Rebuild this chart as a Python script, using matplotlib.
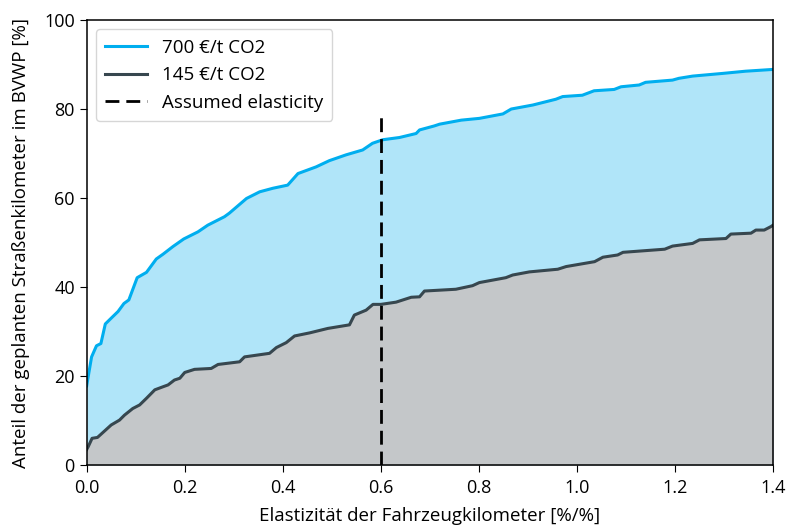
import matplotlib
matplotlib.use("Agg")
import matplotlib.pyplot as plt

plt.rcParams["font.family"] = ["Open Sans", "DejaVu Sans"]

# elasticity (x) and share of planned road km (y) for 700 EUR/t CO2
x_700 = [0.0, 0.003, 0.01, 0.02, 0.029, 0.038, 0.05, 0.064, 0.076, 0.086,
         0.103, 0.122, 0.142, 0.156, 0.176, 0.198, 0.227, 0.247, 0.281, 0.291,
         0.326, 0.353, 0.38, 0.41, 0.431, 0.468, 0.495, 0.529, 0.563, 0.583,
         0.604, 0.638, 0.672, 0.679, 0.709, 0.72, 0.764, 0.801, 0.849, 0.866,
         0.91, 0.957, 0.971, 1.011, 1.035, 1.076, 1.09, 1.127, 1.14, 1.195,
         1.208, 1.236, 1.297, 1.344, 1.4]
y_700 = [17.8, 19.8, 24.3, 26.8, 27.3, 31.7, 33.0, 34.5, 36.3, 37.1,
         42.1, 43.3, 46.3, 47.4, 49.1, 50.8, 52.4, 53.9, 55.8, 56.6,
         59.9, 61.4, 62.2, 62.9, 65.5, 67.0, 68.4, 69.7, 70.8, 72.3,
         73.1, 73.6, 74.5, 75.3, 76.2, 76.6, 77.5, 77.9, 78.9, 80.0,
         80.9, 82.2, 82.8, 83.1, 84.1, 84.4, 85.0, 85.4, 86.0, 86.5,
         86.9, 87.4, 88.0, 88.5, 88.9]

# same for 145 EUR/t CO2
x_145 = [0.0, 0.003, 0.011, 0.022, 0.033, 0.05, 0.067, 0.077, 0.094, 0.108,
         0.122, 0.139, 0.156, 0.166, 0.179, 0.19, 0.2, 0.22, 0.254, 0.268,
         0.312, 0.322, 0.373, 0.387, 0.407, 0.424, 0.455, 0.492, 0.536, 0.546,
         0.57, 0.584, 0.6, 0.631, 0.662, 0.679, 0.689, 0.753, 0.787, 0.801,
         0.855, 0.869, 0.903, 0.961, 0.978, 1.036, 1.053, 1.083, 1.094, 1.179,
         1.195, 1.236, 1.25, 1.304, 1.314, 1.355, 1.365, 1.382, 1.396, 1.4]
y_145 = [3.5, 4.1, 6.0, 6.2, 7.3, 9.0, 10.1, 11.2, 12.7, 13.5,
         15.0, 16.9, 17.6, 18.0, 19.1, 19.5, 20.8, 21.5, 21.7, 22.6,
         23.2, 24.3, 25.1, 26.4, 27.5, 29.0, 29.7, 30.7, 31.5, 33.7,
         34.8, 36.1, 36.1, 36.6, 37.7, 37.8, 39.1, 39.5, 40.3, 41.0,
         42.1, 42.7, 43.4, 44.0, 44.6, 45.7, 46.7, 47.2, 47.8, 48.5,
         49.2, 49.8, 50.6, 50.9, 51.9, 52.1, 52.8, 52.8, 53.6, 53.9]

assumed_elasticity = 0.6
assumed_top = 79

fig = plt.figure(figsize=(7.88, 5.27), dpi=100)
ax = fig.add_axes([0.110, 0.1176, 0.871, 0.8444])

ax.fill_between(x_700, 0, y_700, color="#b0e5f9", lw=0)
ax.fill_between(x_145, 0, y_145, color="#c4c7c9", lw=0)
ax.plot(x_700, y_700, color="#00aeef", lw=2.2, label="700 €/t CO2")
ax.plot(x_145, y_145, color="#37474f", lw=2.2, label="145 €/t CO2")
ax.plot([assumed_elasticity, assumed_elasticity], [0, assumed_top],
        color="black", lw=2, ls=(0, (5, 2.5)), label="Assumed elasticity")

ax.set_xlim(0, 1.4)
ax.set_ylim(0, 100)
ax.set_xticks([0.0, 0.2, 0.4, 0.6, 0.8, 1.0, 1.2, 1.4])
ax.set_yticks([0, 20, 40, 60, 80, 100])
ax.tick_params(labelsize=13, length=5, color="black")
ax.tick_params(axis="x", pad=5)
for s in ax.spines.values():
    s.set_color("black")
    s.set_linewidth(1.1)

ax.set_xlabel("Elastizität der Fahrzeugkilometer [%/%]", fontsize=13.5, labelpad=7)
ax.set_ylabel("Anteil der geplanten Straßenkilometer im BVWP [%]", fontsize=13.5, labelpad=10)

leg = ax.legend(loc="upper left", fontsize=13.5, frameon=True, fancybox=True,
                borderpad=0.5, handlelength=2.2)
leg.get_frame().set_edgecolor("#cccccc")

fig.savefig("out.png", dpi=100)
